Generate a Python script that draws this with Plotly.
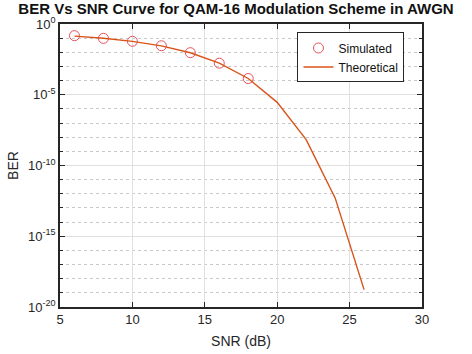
import plotly.graph_objects as go

snr_sim = [6, 8, 10, 12, 14, 16, 18]
ber_sim = [0.150, 0.097, 0.060, 0.029, 0.0094, 0.0017, 0.00014]

snr_theory = [6, 8, 10, 12, 14, 16, 18, 20, 22, 24, 26]
ber_theory = [0.1395, 0.098, 0.059, 0.0287, 0.00923, 0.00172, 1.41e-4,
              2.91e-6, 6.75e-9, 5.12e-13, 1.70e-19]

x_ticks = [5, 10, 15, 20, 25, 30]
y_major = [1e-20, 1e-15, 1e-10, 1e-5, 1]
y_major_text = ["10<sup>-20</sup>", "10<sup>-15</sup>", "10<sup>-10</sup>",
                "10<sup>-5</sup>", "10<sup>0</sup>"]
y_minor = [10.0 ** (-k) for k in range(1, 20) if k % 5 != 0]

FONT = "Liberation Sans, Arial"

fig = go.Figure()
fig.add_trace(go.Scatter(
    x=snr_sim, y=ber_sim, mode="markers", name="Simulated",
    marker=dict(symbol="circle-open", size=10, color="#E8505B",
                line=dict(width=1, color="#E8505B")),
))
fig.add_trace(go.Scatter(
    x=snr_theory, y=ber_theory, mode="lines", name="Theoretical",
    line=dict(color="#D95319", width=1.4),
))

axis_common = dict(
    showline=True, linecolor="#262626", linewidth=1.5, mirror="ticks",
    ticks="inside", ticklen=5, tickcolor="#262626",
    tickfont=dict(family=FONT, size=13, color="#262626"),
    gridcolor="#E0E0E0", gridwidth=1, zeroline=False, automargin=False,
)

fig.update_xaxes(
    range=[5, 30], tickvals=x_ticks, ticktext=[str(v) for v in x_ticks],
    title=dict(text="SNR (dB)", font=dict(family=FONT, size=14, color="#262626"),
               standoff=10),
    **axis_common,
)
fig.update_yaxes(
    type="log", range=[-20, 0], tickvals=y_major, ticktext=y_major_text,
    title=dict(text="BER", font=dict(family=FONT, size=14, color="#262626"),
               standoff=6),
    minor=dict(tickvals=y_minor, showgrid=True, gridcolor="#C8C8C8", griddash="dot",
               gridwidth=1, ticks="inside", ticklen=3, tickcolor="#262626"),
    **axis_common,
)

fig.update_layout(
    width=472, height=354,
    margin=dict(l=60, r=50, t=24, b=47),
    paper_bgcolor="white", plot_bgcolor="white",
    title=dict(text="<b>BER Vs SNR Curve for QAM-16 Modulation Scheme in AWGN</b>",
               x=0.5, xanchor="center", y=0.975, yanchor="middle",
               font=dict(family=FONT, size=15, color="#111111")),
    legend=dict(x=0.656, y=0.97, xanchor="left", yanchor="top",
                bgcolor="white", bordercolor="#262626", borderwidth=1,
                font=dict(family=FONT, size=12, color="#111111"),
                itemwidth=30, tracegroupgap=0),
    showlegend=True,
)

fig.write_html("out.html")
